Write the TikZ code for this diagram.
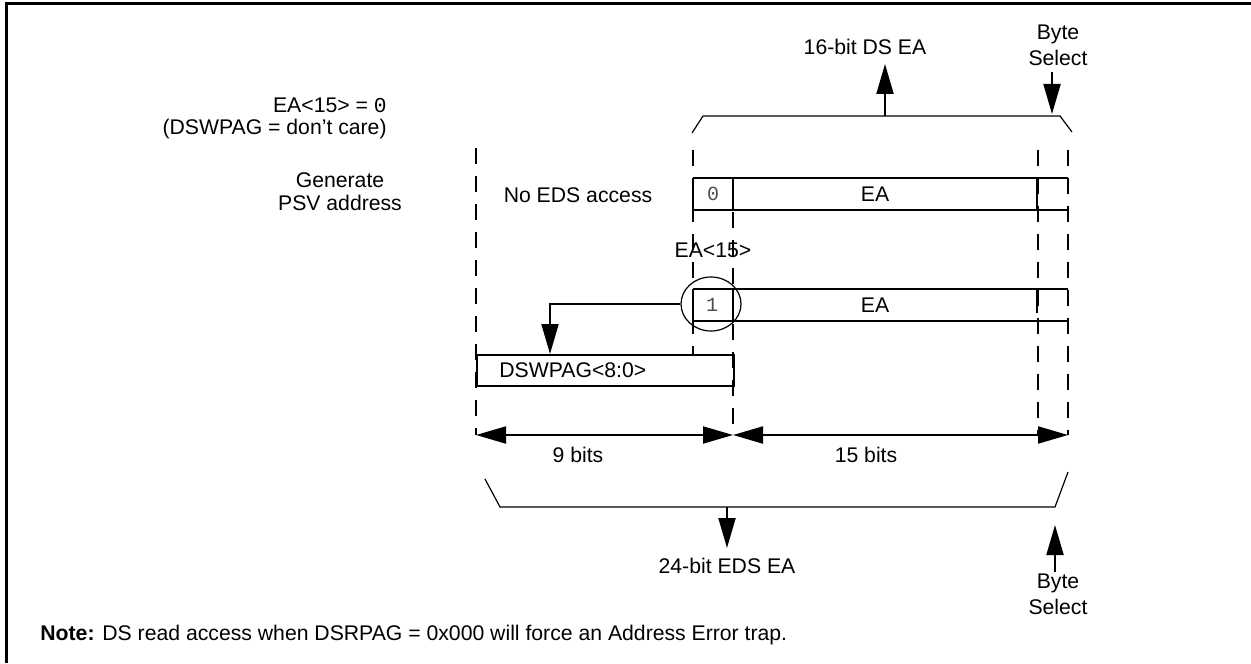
\documentclass[tikz,border=0pt]{standalone}
\usepackage{fontspec}
\setmainfont{Liberation Sans}
\newfontfamily\monofont{Liberation Mono}
\usetikzlibrary{arrows.meta,shapes.geometric}

\begin{document}
\begin{tikzpicture}[x=0.5pt, y=-0.5pt, >={Triangle[length=15pt,width=8.5pt]},
    every node/.style={inner sep=0pt, font=\fontsize{10.6}{11}\selectfont},
    bus/.style={line width=1pt},
    guide/.style={line width=1pt, dash pattern=on 8pt off 6pt},
    brace/.style={line width=0.6pt},
    bitval/.style={font=\monofont\fontsize{10}{11}\selectfont, text=black!70}]
    \useasboundingbox (0,0) rectangle (1251,663);
    % frame (top and left edge only)
    \draw[line width=1.5pt] (6,663) -- (6,3.5) -- (1251,3.5);

    % guides
    \draw[guide] (476,148) -- (476,435);
    \draw[guide] (693,150) -- (693,355);
    \draw[guide] (733,212) -- (733,435);
    \draw[guide] (1038,150) -- (1038,435);
    \draw[guide] (1068,150) -- (1068,435);

    % left side labels
    \node[align=right, anchor=east] (cond) at (387,118) {EA<15> = {\monofont 0}\\(DSWPAG = don’t care)};
    \node[align=center, font=\fontsize{10.6}{11.5}\selectfont] (psv) at (340,192) {Generate\\PSV address};
    \node (noeds) at (578,195) {No EDS access};

    % 16-bit DS EA brace
    \draw[brace] (692,133) -- (703,116) -- (1060,116) -- (1072,132);
    \node (dsea) at (865,47) {16-bit DS EA};
    \node[align=center, font=\fontsize{10.6}{13}\selectfont] (bsTop) at (1058,45) {Byte\\Select};
    \coordinate (dsBase) at (885,116);
    \coordinate (dsTip) at (885,64);
    \draw[bus,->] (dsBase) -- (dsTip);
    \coordinate (bsTopStart) at (1052,72);
    \coordinate (bsTopTip) at (1052,114);
    \draw[bus,->] (bsTopStart) -- (bsTopTip);

    % EA with bit 15 = 0
    \draw[bus] (693,178) -- (1068,178);
    \draw[bus] (693,210) -- (1068,210);
    \draw[bus] (693,178) -- (693,210);
    \draw[bus] (733,178) -- (733,210);
    \draw[line width=1.4pt] (1037,178) -- (1037,210);
    \node[bitval] (bit0) at (713,194) {0};
    \node (eaA) at (875,194) {EA};

    \node (ea15) at (713,250) {EA<15>};

    % EA with bit 15 = 1
    \draw[bus] (693,289) -- (1068,289);
    \draw[bus] (693,321) -- (1068,321);
    \draw[bus] (693,289) -- (693,321);
    \draw[bus] (733,289) -- (733,321);
    \draw[line width=1.4pt] (1037,289) -- (1037,313);
    \node[bitval] (bit1) at (712,305) {1};
    \node (eaB) at (875,305) {EA};
    \node[draw, brace, ellipse, minimum width=30pt, minimum height=27pt] (ring) at (711,304) {};

    % DSWPAG register
    \node[draw, bus, anchor=north west, minimum width=128.5pt, minimum height=15.5pt] (dswpag) at (476,354) {};
    \node[anchor=west] (dswpagTxt) at (499,370) {DSWPAG<8:0>};
    \coordinate (drop) at (550,354);
    \draw[bus,->] (ring.west) -| (drop);

    % bit counts
    \coordinate (dimL) at (476,435);
    \coordinate (dimM) at (733,435);
    \coordinate (dimR) at (1068,435);
    \draw[bus,<->] (dimL) -- (dimM);
    \draw[bus,<->] (dimM) -- (dimR);
    \node (nine) at (578,455) {9 bits};
    \node (fifteen) at (866,455) {15 bits};

    % 24-bit EDS EA brace
    \draw[brace] (485,479) -- (500,507) -- (1055,507) -- (1068,472);
    \coordinate (edsBase) at (727,507);
    \coordinate (edsTip) at (727,548);
    \draw[bus,->] (edsBase) -- (edsTip);
    \node (edsea) at (727,566) {24-bit EDS EA};
    \coordinate (bsBotStart) at (1055,572);
    \coordinate (bsBotTip) at (1055,525);
    \draw[bus,->] (bsBotStart) -- (bsBotTip);
    \node[align=center, font=\fontsize{10.6}{13}\selectfont] (bsBot) at (1058,594) {Byte\\Select};

    \node[anchor=west] (note) at (40,635) {\textbf{Note:} DS read access when DSRPAG = 0x000 will force an Address Error trap.};
\end{tikzpicture}
\end{document}
